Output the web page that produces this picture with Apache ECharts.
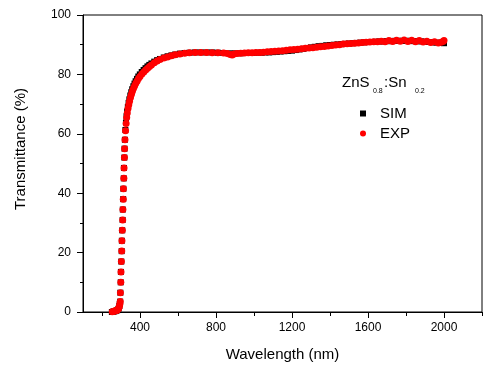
<!DOCTYPE html>
<html>
<head>
<meta charset="utf-8">
<script src="https://cdn.jsdelivr.net/npm/echarts@6/dist/echarts.min.js"></script>
<style>
  html, body { margin: 0; padding: 0; background: #fff; }
  #chart { width: 493px; height: 371px; }
</style>
</head>
<body>
<div id="chart"></div>
<script>
// wavelength (nm), transmittance (%)
const simData = [
  [252, 0], [258, 0.1], [264, 0.2], [270, 0.3], [275, 0.4], [280, 0.6], [284, 0.8], [288, 1.2],
  [291.5, 2.0], [293.5, 2.7], [295.5, 3.5], [296.5, 6.5], [298.5, 10], [299.5, 13.5], [301.5, 17],
  [303.5, 20.5], [304.5, 24], [306.5, 27.5], [308.5, 31], [309.5, 34.5], [311.5, 38], [312.5, 41.5],
  [314.5, 45], [315.5, 48.5], [317.5, 52], [318.5, 55], [320.5, 58], [323, 61.3], [326, 63.8],
  [329, 65.9], [332, 67.5], [336, 69], [340, 70.4], [344, 71.6], [349, 72.9], [354, 74],
  [359, 75], [365, 76], [371, 76.9], [377, 77.7], [384, 78.5], [391, 79.3], [399, 80],
  [409, 80.8], [419, 81.5], [429, 82.1], [439, 82.7], [449, 83.2], [460, 83.7], [475, 84.3],
  [490, 84.8], [505, 85.2], [525, 85.7], [545, 86.1], [565, 86.4], [585, 86.7], [610, 87.0],
  [635, 87.2], [660, 87.3], [690, 87.4], [720, 87.4], [750, 87.4], [780, 87.4], [810, 87.3],
  [840, 87.2], [870, 87.1], [900, 87.1], [930, 87.1], [960, 87.2], [980, 87.2], [1000, 87.2],
  [1020, 87.3], [1040, 87.3], [1060, 87.4], [1080, 87.4], [1100, 87.5], [1120, 87.6], [1140, 87.7],
  [1160, 87.8], [1180, 87.9], [1200, 88.0], [1220, 88.2], [1240, 88.4], [1260, 88.6], [1280, 88.9],
  [1300, 89.1], [1320, 89.3], [1340, 89.5], [1360, 89.6], [1380, 89.8], [1400, 89.9], [1420, 90.0],
  [1440, 90.1], [1460, 90.2], [1480, 90.3], [1500, 90.4], [1520, 90.5], [1540, 90.6], [1560, 90.7],
  [1580, 90.8], [1600, 90.9], [1620, 90.9], [1640, 91.0], [1660, 91.1], [1680, 91.1], [1700, 91.2],
  [1720, 91.2], [1740, 91.3], [1760, 91.3], [1780, 91.3], [1800, 91.3], [1820, 91.3], [1840, 91.2],
  [1860, 91.2], [1880, 91.1], [1900, 91.0], [1920, 90.9], [1940, 90.8], [1960, 90.7], [1980, 90.6],
  [2000, 90.5]
];

const expData = [
  [254, 0.1], [260, 0.2], [266, 0.3], [271, 0.4], [276, 0.5], [280, 0.7], [284, 0.9], [288, 1.3],
  [292, 2.0], [294, 2.7], [296, 3.5], [297, 6.5], [299, 10], [300, 13.5], [302, 17], [304, 20.5],
  [305, 24], [307, 27.5], [309, 31], [310, 34.5], [312, 38], [313, 41.5], [315, 45], [316, 48.5],
  [318, 52], [319, 55], [321, 58], [324, 61], [327, 63.5], [330, 65.5], [333, 67], [337, 68.5],
  [341, 69.8], [345, 71], [350, 72.2], [355, 73.3], [360, 74.3], [366, 75.3], [372, 76.2],
  [378, 77], [385, 77.8], [392, 78.6], [400, 79.3], [410, 80.1], [420, 80.8], [430, 81.5],
  [440, 82.1], [450, 82.7], [460, 83.2], [475, 83.9], [490, 84.5], [505, 85], [525, 85.5],
  [545, 85.9], [565, 86.3], [585, 86.6], [610, 86.9], [635, 87.1], [660, 87.3], [690, 87.4],
  [720, 87.4], [750, 87.4], [780, 87.3], [810, 87.3], [840, 87.2], [860, 87.0], [875, 86.7],
  [885, 86.5], [895, 86.9], [910, 87.0], [930, 87.1], [950, 87.2], [970, 87.3], [990, 87.3],
  [1010, 87.4], [1030, 87.4], [1050, 87.5], [1070, 87.6], [1090, 87.7], [1110, 87.8], [1130, 87.9],
  [1150, 88.0], [1170, 88.1], [1190, 88.3], [1210, 88.4], [1230, 88.5], [1250, 88.6], [1270, 88.8],
  [1290, 88.9], [1310, 89.0], [1330, 89.1], [1350, 89.3], [1370, 89.4], [1390, 89.6], [1410, 89.7],
  [1430, 89.9], [1450, 90.0], [1470, 90.2], [1490, 90.3], [1510, 90.4], [1530, 90.5], [1550, 90.6],
  [1570, 90.7], [1590, 90.8], [1610, 90.9], [1630, 91.0], [1650, 91.0], [1670, 91.2], [1690, 91.0],
  [1710, 91.4], [1730, 91.1], [1750, 91.5], [1770, 91.2], [1790, 91.6], [1810, 91.1], [1830, 91.5],
  [1850, 91.0], [1870, 91.4], [1890, 90.9], [1910, 91.2], [1930, 90.7], [1950, 91.0], [1970, 90.6],
  [1985, 90.8], [1995, 91.1], [2000, 91.4]
];

// tick positions along the wavelength axis (100 nm steps, left edge to right edge)
const xTickCats = ['100', '200', '300', '400', '500', '600', '700', '800', '900', '1000', '1100',
  '1200', '1300', '1400', '1500', '1600', '1700', '1800', '1900', '2000', '2100', '2200'];
const xLabelVals = [400, 800, 1200, 1600, 2000];
const xMinorVals = [200, 600, 1000, 1400, 1800, 2200];

const font = 'Liberation Sans, Arial, sans-serif';
const chart = echarts.init(document.getElementById('chart'), null, { renderer: 'canvas' });

const tickAxis = (vals, len, showLabel) => ({
  type: 'category',
  data: xTickCats,
  boundaryGap: false,
  position: 'bottom',
  gridIndex: 0,
  axisLine: { show: false },
  axisTick: {
    show: true,
    length: len,
    lineStyle: { color: '#000', width: 1 },
    interval: (i, v) => vals.includes(+v)
  },
  axisLabel: {
    show: showLabel,
    interval: (i, v) => vals.includes(+v),
    margin: 10,
    fontFamily: font,
    fontSize: 12,
    color: '#000'
  },
  splitLine: { show: false }
});

const option = {
  animation: false,
  backgroundColor: '#fff',
  grid: {
    left: 83,
    right: 11,
    top: 15,
    bottom: 59,
    show: true,
    borderColor: '#000',
    borderWidth: 1,
    backgroundColor: 'transparent'
  },
  xAxis: [
    {
      type: 'value',
      min: 100,
      max: 2200,
      axisLine: { show: true, onZero: false, lineStyle: { color: '#000', width: 1 } },
      axisTick: { show: false },
      axisLabel: { show: false },
      splitLine: { show: false },
      name: 'Wavelength (nm)',
      nameLocation: 'middle',
      nameGap: 35,
      nameTextStyle: { fontFamily: font, fontSize: 15, color: '#000' }
    },
    tickAxis(xLabelVals, 6, true),
    tickAxis(xMinorVals, 4, false)
  ],
  yAxis: {
    type: 'value',
    min: 0,
    max: 100,
    interval: 20,
    axisLine: { show: true, onZero: false, lineStyle: { color: '#000', width: 1 } },
    axisTick: { show: true, length: 6, lineStyle: { color: '#000' } },
    minorTick: { show: true, splitNumber: 2, length: 3, lineStyle: { color: '#000' } },
    axisLabel: { margin: 12, fontFamily: font, fontSize: 12, color: '#000' },
    splitLine: { show: false }
  },
  legend: {
    orient: 'vertical',
    left: 355,
    top: 101,
    itemWidth: 6,
    itemHeight: 6,
    itemGap: 5,
    itemStyle: { opacity: 1 },
    textStyle: { fontFamily: font, fontSize: 15, color: '#000', padding: [0, 0, 0, 9] },
    data: [
      { name: 'SIM', icon: 'rect' },
      { name: 'EXP', icon: 'circle' }
    ]
  },
  graphic: [
    {
      type: 'text', x: 21, y: 149, rotation: Math.PI / 2,
      style: { text: 'Transmittance (%)', fontFamily: font, fontSize: 15, fill: '#000',
        align: 'center', verticalAlign: 'middle' }
    },
    { type: 'text', x: 342, y: 83,
      style: { text: 'ZnS', fontFamily: font, fontSize: 15, fill: '#000', verticalAlign: 'middle' } },
    { type: 'text', x: 373, y: 91.5,
      style: { text: '0.8', fontFamily: font, fontSize: 7, fill: '#000', verticalAlign: 'middle' } },
    { type: 'text', x: 384, y: 83,
      style: { text: ':Sn', fontFamily: font, fontSize: 15, fill: '#000', verticalAlign: 'middle' } },
    { type: 'text', x: 415, y: 91.5,
      style: { text: '0.2', fontFamily: font, fontSize: 7, fill: '#000', verticalAlign: 'middle' } }
  ],
  series: [
    {
      name: 'SIM',
      type: 'scatter',
      xAxisIndex: 0,
      symbol: 'rect',
      symbolSize: 6,
      itemStyle: { color: '#000', opacity: 1 },
      emphasis: { disabled: true },
      data: simData,
      z: 2
    },
    {
      name: 'EXP',
      type: 'scatter',
      xAxisIndex: 0,
      symbol: 'circle',
      symbolSize: 7,
      itemStyle: { color: '#ff0000', opacity: 1 },
      emphasis: { disabled: true },
      data: expData,
      z: 3
    }
  ]
};

chart.setOption(option);
</script>
</body>
</html>
